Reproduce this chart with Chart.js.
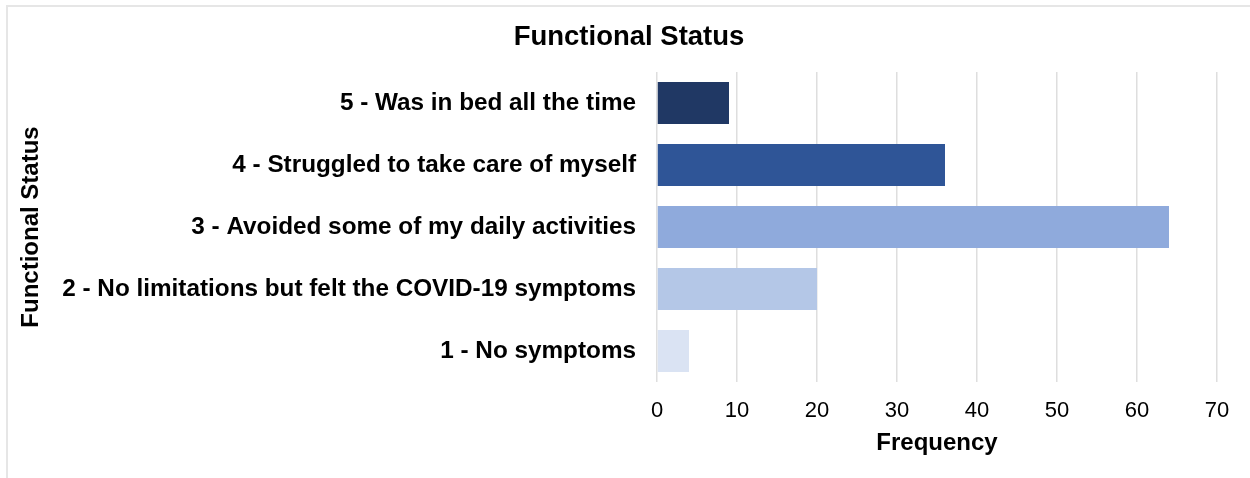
<!DOCTYPE html>
<html>
<head>
<meta charset="utf-8">
<script src="https://cdn.jsdelivr.net/npm/chart.js@4.4.1/dist/chart.umd.min.js"></script>
<style>
  html, body { margin: 0; padding: 0; background: #fff; overflow: hidden; }
  #frame { position: absolute; left: 6px; top: 5px; width: 1260px; height: 500px; border: 2px solid #e6e6e6; box-sizing: border-box; }
  #wrap { position: absolute; left: 0; top: 0; width: 1250px; height: 478px; }
</style>
</head>
<body>
<div id="frame"></div>
<div id="wrap"><canvas id="chart"></canvas></div>
<script>
  // data
  const categories = [
    "5 - Was in bed all the time",
    "4 - Struggled to take care of myself",
    "3 - Avoided some of my daily activities",
    "2 - No limitations but felt the COVID-19 symptoms",
    "1 - No symptoms"
  ];
  const frequency = [9, 36, 64, 20, 4];
  const barColors = ["#203864", "#2f5597", "#8faadc", "#b4c7e7", "#dae3f3"];
  const xTicks = [0, 10, 20, 30, 40, 50, 60, 70];

  const FONT = "'Liberation Sans', Arial, Helvetica, sans-serif";
  Chart.defaults.font.family = FONT;
  Chart.defaults.color = "#000";

  // left padding shifts the centred title; the y title is pulled back out with a negative pad
  const PAD_LEFT = 41;

  new Chart(document.getElementById("chart"), {
    type: "bar",
    data: {
      labels: categories,
      datasets: [{ data: frequency, backgroundColor: barColors, borderWidth: 0, barPercentage: 0.68, categoryPercentage: 1 }]
    },
    options: {
      indexAxis: "y",
      responsive: true,
      maintainAspectRatio: false,
      animation: false,
      layout: { padding: { left: PAD_LEFT, right: 33, top: 0, bottom: 0 } },
      plugins: {
        legend: { display: false },
        tooltip: { enabled: false },
        title: {
          display: true, text: "Functional Status", color: "#000",
          font: { size: 27.5, weight: "bold" },
          padding: { top: 21, bottom: 18 }
        }
      },
      scales: {
        x: {
          min: 0, max: 70,
          afterBuildTicks: (s) => { s.ticks = xTicks.map((v) => ({ value: v })); },
          afterFit: (s) => { s.height = 96; },
          grid: { color: "#dedede", lineWidth: 1.5, drawTicks: false },
          border: { display: false },
          ticks: { padding: 16, font: { size: 22 }, color: "#000" },
          title: { display: true, text: "Frequency", color: "#000", font: { size: 24, weight: "bold" }, padding: { top: 0, bottom: 20 } }
        },
        y: {
          afterFit: (s) => { s.width = 657 - PAD_LEFT; },
          grid: { display: false, drawTicks: false },
          border: { display: false },
          ticks: { padding: 21, font: { size: 24.3, weight: "bold" }, color: "#000", autoSkip: false },
          title: { display: true, text: "Functional Status", color: "#000", font: { size: 24, weight: "bold" }, padding: { top: 17 - PAD_LEFT, bottom: 0 } }
        }
      }
    }
  });
</script>
</body>
</html>
